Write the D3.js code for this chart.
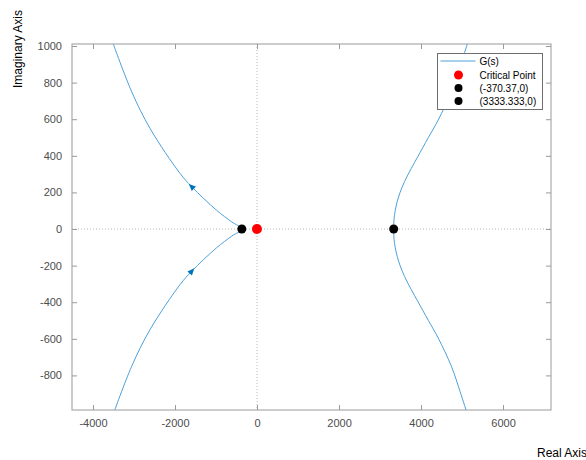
<!DOCTYPE html>
<html>
<head>
<meta charset="utf-8">
<script src="https://cdn.jsdelivr.net/npm/d3@7"></script>
<style>
  body { margin: 0; background: #fff; }
  svg { font-family: "Liberation Sans", Arial, Helvetica, sans-serif; }
</style>
</head>
<body>
<div id="chart"></div>
<script>
// nyquist plot - branches
let leftBranchRe = [-3505, -3056, -2610, -1878, -1593, -983, -617, -370.37, -617, -983, -1593, -1878, -2610, -3056, -3505];
let leftBranchIm = [1011, 750, 550, 304, 231, 102, 39, 0, -39, -102, -231, -304, -550, -750, -1011];

let rightBranchRe = [5129, 4951, 4740, 4420, 4180, 3920, 3760, 3600, 3490, 3420, 3370, 3340, 3333.333,
                     3340, 3370, 3420, 3490, 3600, 3760, 3920, 4180, 4420, 4740, 4951, 5129];
let rightBranchIm = [1011, 887, 750, 596, 500, 395, 330, 260, 200, 150, 100, 50, 0,
                     -50, -100, -150, -200, -260, -330, -395, -500, -596, -750, -887, -1011];

let xTicks = [-4000, -2000, 0, 2000, 4000, 6000];
let yTicks = [-800, -600, -400, -200, 0, 200, 400, 600, 800, 1000];

let markerRe = [-1, -370.37, 3333.333];
let markerIm = [0, 0, 0];
let markerColor = ["red", "black", "black"];

let legendLabels = ["G(s)", "Critical Point", "(-370.37,0)", "(3333.333,0)"];

const width = 586, height = 460;
const margin = {top: 44, right: 35, bottom: 50, left: 72};
const plotW = width - margin.left - margin.right;
const plotH = height - margin.top - margin.bottom;

let svg = d3.select("#chart").append("svg")
    .attr("width", width)
    .attr("height", height);

let g = svg.append("g")
    .attr("transform", `translate(${margin.left}, ${margin.top})`);

let x = d3.scaleLinear().domain([-4512, 7170]).range([0, plotW]);
let y = d3.scaleLinear().domain([-989, 1011]).range([plotH, 0]);

// plain hyphen for negatives, like matlab
let fmt = d => String(d);

// clip so curves stop at the box
g.append("clipPath").attr("id", "clip")
  .append("rect").attr("width", plotW).attr("height", plotH);

// zero lines (dotted)
g.append("line")
    .attr("x1", x(0)).attr("x2", x(0))
    .attr("y1", 0).attr("y2", plotH)
    .attr("stroke", "#b8b8b8").attr("stroke-dasharray", "1,2");
g.append("line")
    .attr("x1", 0).attr("x2", plotW)
    .attr("y1", y(0)).attr("y2", y(0))
    .attr("stroke", "#b8b8b8").attr("stroke-dasharray", "1,2");

// axes, ticks inside on all four sides
let axisColor = "#9a9a9a";
let styleAxis = sel => {
    sel.select(".domain").remove();
    sel.selectAll(".tick line").attr("stroke", axisColor);
    sel.selectAll(".tick text").attr("fill", "#4d4d4d").style("font-size", "11px");
};
g.append("g").attr("transform", `translate(0,${plotH})`)
    .call(d3.axisBottom(x).tickValues(xTicks).tickSize(-5).tickPadding(9).tickFormat(fmt))
    .call(styleAxis);
g.append("g")
    .call(d3.axisTop(x).tickValues(xTicks).tickSize(-5).tickFormat(""))
    .call(styleAxis);
g.append("g")
    .call(d3.axisLeft(y).tickValues(yTicks).tickSize(-5).tickPadding(10).tickFormat(fmt))
    .call(styleAxis);
g.append("g").attr("transform", `translate(${plotW},0)`)
    .call(d3.axisRight(y).tickValues(yTicks).tickSize(-5).tickFormat(""))
    .call(styleAxis);

g.append("rect")
    .attr("width", plotW).attr("height", plotH)
    .attr("fill", "none").attr("stroke", axisColor);

// curves
let line = d3.line()
    .x(d => x(d[0]))
    .y(d => y(d[1]))
    .curve(d3.curveCatmullRom.alpha(0.5));

let branches = [
    d3.zip(leftBranchRe, leftBranchIm),
    d3.zip(rightBranchRe, rightBranchIm)
];
g.append("g").attr("clip-path", "url(#clip)")
  .selectAll("path").data(branches).enter()
  .append("path")
    .attr("d", line)
    .attr("fill", "none")
    .attr("stroke", "#4fa0da")
    .attr("stroke-width", 1);

// direction arrows on the left branch (lower goes toward the pole, upper goes away)
let arrows = [
    {at: [leftBranchRe[4], leftBranchIm[4]], from: [leftBranchRe[5], leftBranchIm[5]]},
    {at: [leftBranchRe[10], leftBranchIm[10]], from: [leftBranchRe[11], leftBranchIm[11]]}
];
g.selectAll(".arrow").data(arrows).enter()
  .append("path")
    .attr("class", "arrow")
    .attr("d", "M4,0 L-3,-3 L-3,3 Z")
    .attr("fill", "#0072BD")
    .attr("transform", d => {
        let ang = Math.atan2(y(d.at[1]) - y(d.from[1]), x(d.at[0]) - x(d.from[0])) * 180 / Math.PI;
        return `translate(${x(d.at[0])},${y(d.at[1])}) rotate(${ang})`;
    });

// markers
g.selectAll(".mark").data(d3.range(markerRe.length)).enter()
  .append("circle")
    .attr("class", "mark")
    .attr("cx", i => x(markerRe[i]))
    .attr("cy", i => y(markerIm[i]))
    .attr("r", i => i == 0 ? 5 : 4.5)
    .attr("fill", i => markerColor[i]);

// axis labels (nyquist style, out at the corners)
svg.append("text")
    .attr("transform", "translate(22, 88) rotate(-90)")
    .style("font-size", "12px")
    .attr("fill", "#000")
    .text("Imaginary Axis");
svg.append("text")
    .attr("x", 537).attr("y", 457)
    .style("font-size", "12px")
    .attr("fill", "#000")
    .text("Real Axis");

// legend
let legend = svg.append("g").attr("transform", "translate(437.5, 53.5)");
legend.append("rect")
    .attr("width", 105).attr("height", 56)
    .attr("fill", "#fff").attr("stroke", "#6e6e6e").attr("stroke-width", 1);
let rowY = [7.5, 21.5, 34.5, 47.5];
legend.selectAll(".ltxt").data(legendLabels).enter()
  .append("text")
    .attr("class", "ltxt")
    .attr("x", 42).attr("y", (d, i) => rowY[i] + 3.5)
    .style("font-size", "10px")
    .text(d => d);
legend.append("line")
    .attr("x1", 3).attr("x2", 38)
    .attr("y1", rowY[0]).attr("y2", rowY[0])
    .attr("stroke", "#4fa0da").attr("stroke-width", 1);
legend.selectAll(".ldot").data(markerColor).enter()
  .append("circle")
    .attr("class", "ldot")
    .attr("cx", 21).attr("cy", (d, i) => rowY[i + 1])
    .attr("r", (d, i) => i == 0 ? 4.5 : 4)
    .attr("fill", d => d);
</script>
</body>
</html>
